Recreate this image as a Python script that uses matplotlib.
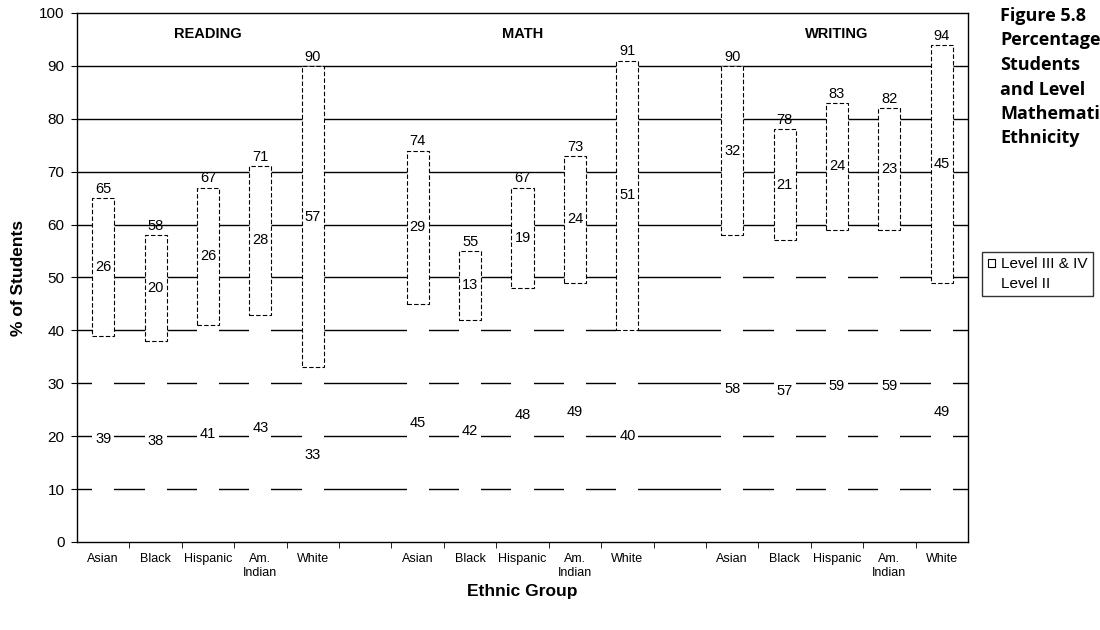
import numpy as np
import matplotlib
matplotlib.use("Agg")
import matplotlib.pyplot as plt
from matplotlib.patches import Patch

plt.rcParams['font.family'] = ['Liberation Sans', 'DejaVu Sans']

# data
subjects = ["READING", "MATH", "WRITING"]
groups = ["Asian", "Black", "Hispanic", "Am.\nIndian", "White"]
level2 = {"READING": [39, 38, 41, 43, 33],
          "MATH": [45, 42, 48, 49, 40],
          "WRITING": [58, 57, 59, 59, 49]}
level34 = {"READING": [26, 20, 26, 28, 57],
           "MATH": [29, 13, 19, 24, 51],
           "WRITING": [32, 21, 24, 23, 45]}

fig = plt.figure(figsize=(11, 6.3), dpi=100)
ax = fig.add_axes([0.07, 0.1397, 0.81, 0.8397])

# slot positions: 5 bars, blank slot, 5 bars, blank slot, 5 bars
xpos = []
labels = []
for i, s in enumerate(subjects):
    for j, g in enumerate(groups):
        xpos.append(i * 6 + j)
        labels.append(g)
xpos = np.array(xpos)
l2 = np.array([v for s in subjects for v in level2[s]])
l34 = np.array([v for s in subjects for v in level34[s]])
tot = l2 + l34

bw = 0.42
# gridlines sit under the white bars
for y in range(10, 100, 10):
    ax.axhline(y, color='black', lw=1.0, zorder=1)

ax.bar(xpos, l2, bw, color='white', edgecolor='none', zorder=2)
ax.bar(xpos, l34, bw, bottom=l2, color='white', edgecolor='black',
       linestyle=(0, (4, 2)), lw=0.8, zorder=3)

for x, a, b, t in zip(xpos, l2, l34, tot):
    ax.text(x, a / 2, str(a), ha='center', va='center', fontsize=10.5, zorder=5)
    ax.text(x, a + b / 2, str(b), ha='center', va='center', fontsize=10.5, zorder=5)
    ax.text(x, t + 0.4, str(t), ha='center', va='bottom', fontsize=10.5, zorder=5)

for i, s in enumerate(subjects):
    ax.text(i * 6 + 2, 96, s, ha='center', va='center', fontsize=10.5, fontweight='bold')

ax.set_xlim(-0.5, 16.5)
ax.set_ylim(0, 100)
ax.set_yticks(range(0, 101, 10))
ax.tick_params(axis='y', labelsize=11, length=4, direction='out', pad=5)
ax.set_xticks(xpos)
ax.set_xticklabels(labels, fontsize=9, linespacing=1.2)
ax.tick_params(axis='x', length=0, pad=8)
ax.set_xticks(np.arange(0.5, 16.5, 1), minor=True)
ax.tick_params(axis='x', which='minor', length=4, direction='out')
for sp in ax.spines.values():
    sp.set_linewidth(1.0)

ax.set_ylabel("% of Students", fontsize=12.5, fontweight='bold')
ax.yaxis.set_label_coords(-0.0657, 0.5)
ax.yaxis.label.set_va('center')
ax.set_xlabel("Ethnic Group", fontsize=12.5, fontweight='bold')
ax.xaxis.set_label_coords(0.5, -0.093)
ax.xaxis.label.set_va('center')

handles = [Patch(facecolor='white', edgecolor='black', lw=0.8),
           Patch(facecolor='white', edgecolor='none')]
fig.legend(handles, ["Level III & IV", "Level II"], loc='upper left',
           bbox_to_anchor=(0.893, 0.6), fontsize=11, frameon=True, fancybox=False,
           edgecolor='black', handlelength=0.5, handleheight=0.5,
           handletextpad=0.4, borderpad=0.35, borderaxespad=0, labelspacing=0.35)

title_lines = ["Figure 5.8", "Percentage", "Students", "and Level",
               "Mathematics", "Ethnicity"]
baselines = [21, 45, 70, 95, 119, 143]
for line, b in zip(title_lines, baselines):
    fig.text(0.909, 1 - b / 630, line, ha='left', va='baseline',
             fontsize=13, fontweight='bold', family=['Open Sans', 'DejaVu Sans'])

fig.savefig("out.png", dpi=100)
